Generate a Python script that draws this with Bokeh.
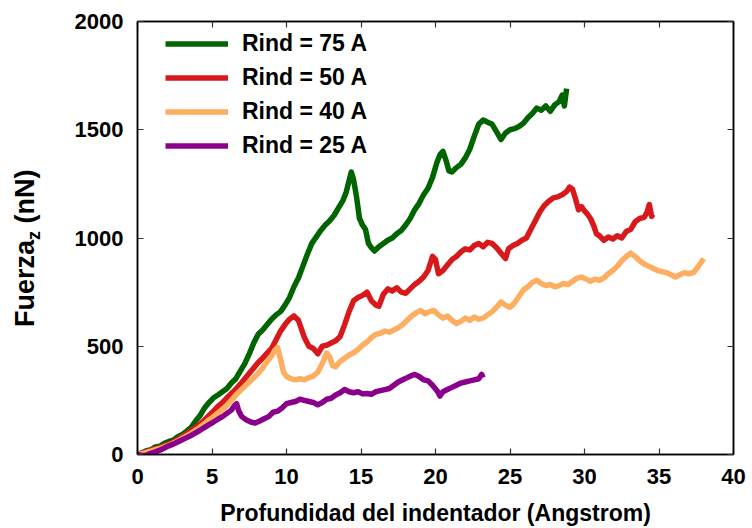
from bokeh.plotting import figure
from bokeh.models import Range1d, LinearAxis, FixedTicker, Legend, LegendItem, Div
from bokeh.layouts import row
from bokeh.embed import file_html
from bokeh.resources import INLINE

# ---------------- data ----------------
x_ticks = [0, 5, 10, 15, 20, 25, 30, 35, 40]
y_ticks = [0, 500, 1000, 1500, 2000]

labels = ["Rind = 75 A", "Rind = 50 A", "Rind = 40 A", "Rind = 25 A"]
colors = ["#006400", "#d7191c", "#fdae61", "#8b008b"]

x75 = [0.0, 0.3, 0.6, 0.9, 1.2, 1.5, 1.8, 2.1, 2.4, 2.7, 3.0, 3.3, 3.6, 3.9, 4.2, 4.5, 4.8, 5.1, 5.4, 5.7,
       6.0, 6.3, 6.6, 6.9, 7.2, 7.5, 7.8, 8.1, 8.4, 8.7, 9.0, 9.3, 9.6, 9.9, 10.2, 10.5, 10.8, 11.1, 11.4, 11.7,
       12.0, 12.3, 12.6, 12.9, 13.2, 13.5, 13.8, 14.0, 14.2, 14.35, 14.5, 14.7, 14.9, 15.1, 15.3, 15.5, 15.7, 15.9,
       16.2, 16.5, 16.8, 17.1, 17.4, 17.7, 18.0, 18.3, 18.6, 18.9, 19.2, 19.5, 19.8, 20.1, 20.3, 20.5, 20.7, 20.9,
       21.1, 21.4, 21.7, 22.0, 22.3, 22.6, 22.9, 23.2, 23.5, 23.8, 24.1, 24.4, 24.7, 25.0, 25.3, 25.6, 25.9, 26.2,
       26.5, 26.8, 27.1, 27.4, 27.7, 28.0, 28.3, 28.5, 28.65, 28.8]
y75 = [0, 8, 18, 22, 35, 38, 52, 60, 66, 82, 92, 108, 125, 155, 180, 215, 240, 262, 275, 290,
       305, 330, 350, 385, 420, 465, 515, 555, 575, 600, 625, 645, 660, 690, 725, 775, 815, 870, 925, 975,
       1005, 1035, 1060, 1080, 1105, 1140, 1175, 1210, 1265, 1305, 1270, 1190, 1090, 1060, 1040, 975, 955, 940,
       960, 975, 990, 1000, 1020, 1035, 1060, 1090, 1130, 1160, 1200, 1230, 1280, 1350, 1385, 1400, 1360, 1310,
       1305, 1325, 1340, 1370, 1410, 1470, 1525, 1545, 1535, 1525, 1490, 1455, 1485, 1500, 1505, 1515, 1530, 1555,
       1575, 1600, 1590, 1610, 1585, 1615, 1630, 1660, 1610, 1690]

x50 = [0.0, 0.3, 0.6, 0.9, 1.2, 1.5, 1.8, 2.1, 2.4, 2.7, 3.0, 3.3, 3.6, 3.9, 4.2, 4.5, 4.8, 5.1, 5.4, 5.7,
       6.0, 6.3, 6.6, 6.9, 7.2, 7.5, 7.8, 8.1, 8.4, 8.7, 9.0, 9.3, 9.6, 9.9, 10.2, 10.5, 10.8, 11.0, 11.2, 11.5,
       11.8, 12.1, 12.4, 12.7, 13.0, 13.3, 13.6, 13.9, 14.2, 14.5, 14.8, 15.1, 15.4, 15.7, 16.0, 16.2, 16.5, 16.8,
       17.1, 17.4, 17.7, 18.0, 18.3, 18.6, 18.9, 19.2, 19.5, 19.8, 20.0, 20.2, 20.5, 20.8, 21.1, 21.4, 21.7, 22.0,
       22.3, 22.6, 22.9, 23.2, 23.5, 23.8, 24.1, 24.4, 24.7, 24.9, 25.2, 25.5, 25.8, 26.1, 26.4, 26.7, 27.0, 27.3,
       27.6, 27.9, 28.2, 28.5, 28.8, 29.0, 29.2, 29.4, 29.6, 29.8, 30.0, 30.2, 30.4, 30.6, 30.8, 31.0, 31.3, 31.6,
       31.9, 32.2, 32.5, 32.8, 33.1, 33.4, 33.7, 34.0, 34.2, 34.35, 34.5, 34.6]
y50 = [0, 5, 12, 20, 26, 32, 42, 48, 58, 70, 82, 96, 110, 125, 140, 160, 180, 200, 222, 240,
       262, 282, 302, 325, 350, 375, 400, 425, 445, 468, 490, 530, 570, 600, 625, 640, 620, 580, 540, 500,
       490, 465, 500, 505, 515, 525, 545, 600, 660, 710, 725, 735, 750, 710, 690, 685, 740, 765,
       755, 770, 750, 745, 765, 785, 800, 820, 850, 915, 900, 835, 850, 875, 900, 915, 935, 950,
       945, 965, 975, 960, 980, 975, 955, 930, 905, 950, 965, 975, 990, 1000, 1040, 1080, 1120, 1150,
       1170, 1185, 1190, 1200, 1215, 1235, 1225, 1180, 1130, 1145, 1125, 1110, 1090, 1060, 1020, 1010, 990, 1005,
       995, 1010, 1000, 1030, 1040, 1075, 1090, 1095, 1120, 1155, 1100, 1110]

x40 = [0.0, 0.3, 0.6, 0.9, 1.2, 1.5, 1.8, 2.1, 2.4, 2.7, 3.0, 3.3, 3.6, 3.9, 4.2, 4.5, 4.8, 5.1, 5.4, 5.7,
       6.0, 6.3, 6.6, 6.9, 7.2, 7.5, 7.8, 8.1, 8.4, 8.7, 9.0, 9.2, 9.4, 9.6, 9.8, 10.0, 10.3, 10.6, 10.9, 11.2,
       11.5, 11.8, 12.1, 12.4, 12.7, 12.9, 13.1, 13.3, 13.6, 13.9, 14.2, 14.5, 14.8, 15.1, 15.4, 15.7, 16.0, 16.3,
       16.6, 16.9, 17.2, 17.5, 17.8, 18.1, 18.4, 18.7, 19.0, 19.3, 19.6, 19.9, 20.2, 20.5, 20.8, 21.1, 21.4, 21.7,
       22.0, 22.3, 22.6, 22.9, 23.2, 23.5, 23.8, 24.1, 24.4, 24.7, 25.0, 25.3, 25.6, 25.9, 26.2, 26.5, 26.8, 27.1,
       27.4, 27.7, 28.0, 28.3, 28.6, 28.9, 29.2, 29.5, 29.8, 30.1, 30.4, 30.7, 31.0, 31.3, 31.6, 31.9, 32.2, 32.5,
       32.8, 33.1, 33.4, 33.7, 34.0, 34.3, 34.6, 34.9, 35.2, 35.5, 35.8, 36.1, 36.4, 36.7, 37.0, 37.3, 37.6, 37.9,
       38.0]
y40 = [0, 4, 10, 16, 22, 28, 36, 44, 52, 62, 74, 86, 98, 112, 126, 143, 160, 175, 192, 208,
       228, 250, 275, 295, 315, 335, 355, 375, 400, 430, 455, 480, 495, 440, 380, 360, 350, 345, 350, 345,
       355, 362, 380, 420, 468, 450, 410, 405, 430, 445, 460, 470, 485, 505, 520, 540, 555, 560,
       570, 565, 575, 585, 600, 620, 640, 655, 665, 650, 660, 665, 645, 630, 640, 620, 605, 615,
       630, 620, 635, 625, 630, 645, 660, 680, 705, 690, 680, 700, 730, 760, 775, 795, 805, 790,
       780, 785, 775, 780, 790, 785, 800, 815, 820, 810, 800, 810, 805, 815, 835, 850, 870, 895,
       915, 930, 915, 895, 880, 870, 860, 850, 845, 840, 830, 820, 830, 840, 835, 840, 865, 895,
       905]

x25 = [0.0, 0.3, 0.6, 0.9, 1.2, 1.5, 1.8, 2.1, 2.4, 2.7, 3.0, 3.3, 3.6, 3.9, 4.2, 4.5, 4.8, 5.1, 5.4, 5.7,
       6.0, 6.3, 6.5, 6.65, 6.8, 7.0, 7.3, 7.6, 7.9, 8.2, 8.5, 8.8, 9.1, 9.4, 9.7, 10.0, 10.3, 10.6, 10.9, 11.2,
       11.5, 11.8, 12.1, 12.4, 12.7, 13.0, 13.3, 13.6, 13.9, 14.2, 14.5, 14.8, 15.1, 15.4, 15.7, 16.0, 16.3, 16.6,
       16.9, 17.2, 17.5, 17.8, 18.1, 18.4, 18.6, 18.9, 19.2, 19.5, 19.8, 20.1, 20.3, 20.5, 20.8, 21.1, 21.4, 21.7,
       22.0, 22.3, 22.6, 22.9, 23.1, 23.2]
y25 = [0, -5, -3, 5, 12, 20, 30, 40, 48, 58, 68, 78, 88, 100, 112, 125, 138, 150, 163, 175,
       190, 205, 225, 235, 200, 175, 160, 150, 145, 155, 165, 175, 195, 200, 215, 235, 240, 245, 255, 250,
       245, 240, 230, 240, 255, 260, 275, 285, 300, 290, 285, 290, 280, 282, 278, 290, 295, 300,
       305, 320, 335, 345, 355, 365, 370, 360, 345, 340, 320, 295, 270, 290, 300, 310, 320, 330,
       335, 340, 345, 350, 370, 355]

xs = [x75, x50, x40, x25]
ys = [y75, y50, y40, y25]

FONT = "Liberation Sans"
LABEL_W = 48

p = figure(width=752 - LABEL_W, height=528, output_backend="svg", toolbar_location=None,
           x_range=Range1d(0, 40), y_range=Range1d(0, 2000),
           min_border_left=137 - LABEL_W, min_border_right=19, min_border_top=21, min_border_bottom=74,
           background_fill_color="white", border_fill_color="white", margin=0)
p.grid.visible = False
p.outline_line_color = "black"
p.outline_line_width = 1.5

renderers = []
for xv, yv, c in zip(xs, ys, colors):
    r = p.line(xv, yv, line_color=c, line_width=5.5, line_join="round")
    renderers.append(r)

def style_axis(ax, show_labels=True):
    ax.major_tick_in = 6
    ax.major_tick_out = 0
    ax.minor_tick_line_color = None
    ax.major_tick_line_color = "#333333"
    ax.major_tick_line_width = 1.2
    ax.axis_line_color = "black"
    ax.axis_line_width = 1.5
    if show_labels:
        ax.major_label_text_font = FONT
        ax.major_label_text_font_size = "22px"
        ax.major_label_text_font_style = "bold"
        ax.major_label_text_color = "black"
        ax.major_label_standoff = 14
    else:
        ax.major_label_text_font_size = "1px"
        ax.major_label_text_color = None
        ax.major_label_standoff = 0

p.xaxis.ticker = FixedTicker(ticks=x_ticks)
p.yaxis.ticker = FixedTicker(ticks=y_ticks)
style_axis(p.xaxis[0])
style_axis(p.yaxis[0])
p.xaxis.axis_label = "Profundidad del indentador (Angstrom)"
p.xaxis.axis_label_text_font = FONT
p.xaxis.axis_label_text_font_size = "23px"
p.xaxis.axis_label_text_font_style = "bold"
p.xaxis.axis_label_text_color = "black"
p.xaxis.axis_label_standoff = 13

top_ax = LinearAxis(ticker=FixedTicker(ticks=x_ticks))
style_axis(top_ax, show_labels=False)
p.add_layout(top_ax, "above")
right_ax = LinearAxis(ticker=FixedTicker(ticks=y_ticks))
style_axis(right_ax, show_labels=False)
p.add_layout(right_ax, "right")

legend = Legend(items=[LegendItem(label=l, renderers=[r]) for l, r in zip(labels, renderers)],
                location=(28, 295), padding=0, margin=0, spacing=7,
                glyph_width=63, glyph_height=25, label_height=25, label_standoff=14,
                label_text_font=FONT, label_text_font_size="23px", label_text_font_style="bold",
                label_text_color="black", border_line_color=None, background_fill_alpha=0)
p.add_layout(legend)

# y-axis title with a subscript, as rotated HTML text beside the plot
ylabel_html = (
    '<div style="position:absolute; left:9px; top:327px; transform:rotate(-90deg); '
    'transform-origin:0 0; white-space:nowrap; font-family:\'Liberation Sans\', Arial, sans-serif; '
    'font-weight:bold; font-size:27px; line-height:32px; color:black;">'
    'Fuerza<sub style="font-size:18px;">z</sub> (nN)</div>'
)
ylab = Div(text=ylabel_html, width=LABEL_W, height=528, margin=0)

layout = row(ylab, p, spacing=0)
open("out.html", "w").write(file_html(layout, INLINE))
